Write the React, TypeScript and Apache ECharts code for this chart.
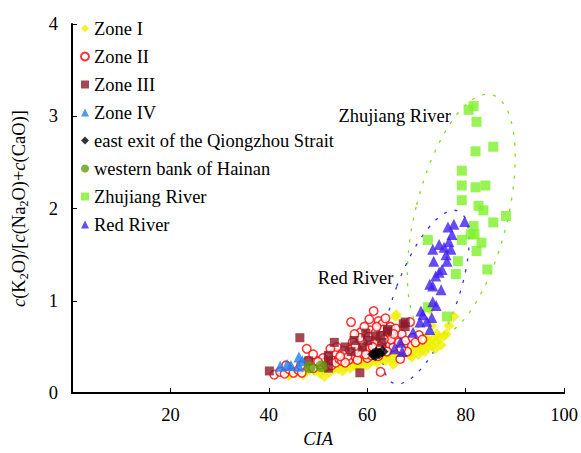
import React, { useEffect, useRef } from "react";
import * as echarts from "echarts";

const FONT = "Liberation Serif";
const FS = 18.5;

const seriesNames = [
  "Zone I",
  "Zone II",
  "Zone III",
  "Zone IV",
  "east exit of the Qiongzhou Strait",
  "western bank of Hainan",
  "Zhujiang River",
  "Red River",
];

const xTicks = [0, 20, 40, 60, 80, 100];
const yTicks = [0, 1, 2, 3, 4];

const zoneI: number[][] = [
  [44.1, 0.19], [45.5, 0.22], [47.0, 0.2], [48.2, 0.25], [49.3, 0.24], [50.5, 0.21], [51.3, 0.18],
  [52.4, 0.23], [53.2, 0.27], [54.1, 0.26], [55.0, 0.24], [55.7, 0.29], [56.5, 0.27], [57.3, 0.3],
  [58.0, 0.28], [58.6, 0.32], [59.3, 0.33], [60.0, 0.3], [60.6, 0.34], [61.2, 0.36], [62.0, 0.33],
  [62.8, 0.37], [63.7, 0.35], [64.3, 0.38], [65.0, 0.36], [65.3, 0.31], [65.7, 0.42], [66.1, 0.44],
  [66.8, 0.4], [67.4, 0.43], [68.1, 0.46], [68.6, 0.41], [69.1, 0.39], [69.3, 0.45], [69.8, 0.5],
  [70.1, 0.56], [70.7, 0.53], [71.0, 0.47], [71.3, 0.51], [71.3, 0.6], [71.7, 0.45], [72.1, 0.6],
  [72.3, 0.5], [72.7, 0.55], [73.1, 0.51], [73.1, 0.73], [73.3, 0.58], [73.8, 0.48], [74.1, 0.56],
  [74.1, 0.64], [74.6, 0.6], [75.0, 0.52], [75.6, 0.62], [76.0, 0.64], [76.6, 0.73], [77.6, 0.83],
  [72.7, 0.91], [65.7, 0.83], [65.9, 0.85], [64.5, 0.44], [63.0, 0.4], [61.5, 0.38], [59.8, 0.36],
  [57.8, 0.34], [56.2, 0.33], [54.6, 0.31], [53.0, 0.3], [50.0, 0.27], [47.5, 0.26], [46.0, 0.24],
  [67.5, 0.49], [70.4, 0.42],
];

const zoneII: number[][] = [
  [41.1, 0.2], [42.3, 0.23], [43.2, 0.21], [44.1, 0.26], [45.0, 0.22], [46.0, 0.25], [46.7, 0.22],
  [47.7, 0.48], [48.5, 0.3], [49.0, 0.27], [49.7, 0.35], [50.5, 0.31], [51.2, 0.33], [51.8, 0.29],
  [52.7, 0.3], [53.0, 0.36], [53.6, 0.33], [54.3, 0.37], [54.8, 0.35], [55.3, 0.39], [55.8, 0.42],
  [56.2, 0.36], [56.7, 0.77], [57.1, 0.45], [57.5, 0.4], [57.9, 0.48], [58.3, 0.53], [58.7, 0.66],
  [58.9, 0.43], [59.3, 0.47], [59.6, 0.51], [59.9, 0.58], [60.2, 0.44], [60.5, 0.49], [60.8, 0.54],
  [61.0, 0.62], [61.3, 0.89], [61.5, 0.46], [61.8, 0.5], [62.0, 0.56], [62.3, 0.78], [62.5, 0.6],
  [62.7, 0.23], [62.9, 0.52], [63.1, 0.75], [63.3, 0.69], [63.6, 0.48], [63.9, 0.57], [64.2, 0.63],
  [64.5, 0.53], [64.7, 0.72], [65.0, 0.66], [65.3, 0.5], [65.6, 0.59], [66.1, 0.6], [66.4, 0.55],
  [66.7, 0.37], [67.0, 0.64], [67.4, 0.52], [67.8, 0.57], [68.1, 0.45], [68.7, 0.77], [69.2, 0.6],
  [69.8, 0.55], [70.5, 0.63], [71.2, 0.58], [60.0, 0.38], [58.0, 0.36], [56.0, 0.4], [55.0, 0.46],
  [54.0, 0.42], [53.3, 0.44], [52.0, 0.4], [51.0, 0.38], [50.0, 0.34], [48.0, 0.35], [59.0, 0.55],
  [60.6, 0.68], [61.6, 0.65], [57.0, 0.55], [58.5, 0.6], [63.0, 0.62], [64.0, 0.45], [65.8, 0.7],
  [62.2, 0.4], [60.8, 0.41], [55.5, 0.33], [53.8, 0.5], [52.5, 0.48], [49.0, 0.42], [46.5, 0.3],
  [43.5, 0.3], [57.4, 0.64], [59.4, 0.72], [60.4, 0.8], [61.9, 0.72], [63.7, 0.81],
  [56.4, 0.47], [58.1, 0.44], [59.7, 0.42], [61.1, 0.5], [62.6, 0.48], [64.8, 0.58], [66.9, 0.48],
  [54.5, 0.4], [57.6, 0.51], [60.3, 0.61], [63.4, 0.58], [65.4, 0.64],
];

const zoneIII: number[][] = [
  [40.1, 0.24], [46.3, 0.6], [48.1, 0.35], [52.1, 0.41], [52.1, 0.35], [52.1, 0.27], [53.3, 0.55],
  [56.7, 0.45], [57.3, 0.57], [58.5, 0.22], [59.7, 0.65], [60.1, 0.57], [61.7, 0.62], [62.7, 0.62],
  [64.1, 0.67], [64.1, 0.69], [67.3, 0.75], [67.7, 0.72], [67.7, 0.77], [55.5, 0.5], [59.0, 0.5],
  [63.0, 0.55],
];

const zoneIV: number[][] = [
  [42.3, 0.29], [43.7, 0.31], [44.5, 0.3], [46.1, 0.39], [46.1, 0.29], [46.8, 0.35],
];

const eastExit: number[][] = [
  [61.2, 0.42], [61.8, 0.44], [62.4, 0.43], [63.1, 0.45], [61.6, 0.41],
];

const westernBank: number[][] = [
  [48.3, 0.28], [50.7, 0.29],
];

const zhujiang: number[][] = [
  [80.6, 3.07], [81.6, 3.11], [82.2, 2.94], [85.6, 2.67], [82.0, 2.62], [79.2, 2.41], [79.2, 2.25],
  [82.0, 2.23], [84.0, 2.25], [79.2, 2.09], [82.6, 2.03], [83.6, 1.98], [88.2, 1.92], [85.6, 1.85],
  [81.6, 1.81], [81.0, 1.72], [81.8, 1.72], [72.3, 1.66], [79.2, 1.66], [83.2, 1.63], [82.2, 1.54],
  [78.4, 1.43], [84.4, 1.34], [78.0, 1.29], [72.3, 0.93], [76.2, 0.83],
];

const redRiver: number[][] = [
  [79.8, 1.86], [77.6, 1.83], [76.4, 1.8], [77.2, 1.72], [76.6, 1.64], [74.6, 1.61], [73.3, 1.56],
  [75.6, 1.58], [77.0, 1.56], [76.0, 1.5], [73.5, 1.43], [76.2, 1.43], [75.2, 1.34], [74.6, 1.31],
  [73.9, 1.27], [72.7, 1.18], [73.3, 1.16], [75.0, 1.12], [73.3, 0.99], [70.9, 0.89], [71.3, 0.85],
  [73.1, 0.82], [70.7, 0.77], [72.1, 0.78], [72.7, 0.69], [69.3, 0.66], [66.7, 0.55], [65.5, 0.48],
  [67.1, 0.45], [74.0, 0.95],
];

// annotation anchors in data coordinates
const zhujiangLabelAt = [77.0, 3.0];
const redLabelAt = [65.3, 1.25];
const zhujiangEllipseCenter = [79.1, 1.92];
const redEllipseCenter = [71.9, 1.04];

export default function App() {
  const ref = useRef<HTMLDivElement>(null);
  useEffect(() => {
    document.body.style.margin = "0";
    if (!ref.current) return;
    const chart = echarts.init(ref.current, undefined, { renderer: "svg" });
    const mk = (
      name: string,
      data: number[][],
      symbol: string,
      size: number,
      itemStyle: any
    ) => ({
      name,
      type: "scatter",
      data,
      symbol,
      symbolSize: size,
      itemStyle,
      emphasis: { disabled: true },
    });
    chart.setOption({
      animation: false,
      backgroundColor: "#ffffff",
      textStyle: { fontFamily: FONT },
      grid: { left: 66, right: 14, top: 24, bottom: 59 },
      legend: {
        orient: "vertical",
        left: 75,
        top: 14,
        itemWidth: 8,
        itemHeight: 8,
        itemGap: 9,
        data: seriesNames,
        textStyle: { fontFamily: FONT, fontSize: FS, color: "#000" },
      },
      xAxis: {
        type: "value",
        min: xTicks[0],
        max: xTicks[xTicks.length - 1],
        interval: 20,
        name: "CIA",
        nameLocation: "middle",
        nameGap: 34,
        nameTextStyle: { fontFamily: FONT, fontSize: FS, fontStyle: "italic", color: "#000" },
        axisLine: { lineStyle: { color: "#000", width: 2 } },
        axisTick: { inside: true, length: 5, lineStyle: { color: "#000" } },
        axisLabel: {
          fontFamily: FONT,
          fontSize: FS,
          color: "#000",
          margin: 12,
          formatter: (v: number) => (v === 0 ? "" : String(v)),
        },
        splitLine: { show: false },
      },
      yAxis: {
        type: "value",
        min: yTicks[0],
        max: yTicks[yTicks.length - 1],
        interval: 1,
        name: "{i|c}(K{sub|2}O)/[{i|c}(Na{sub|2}O)+{i|c}(CaO)]",
        nameLocation: "middle",
        nameGap: 42,
        nameTextStyle: {
          fontFamily: FONT,
          fontSize: FS,
          color: "#000",
          lineHeight: 22,
          rich: {
            i: { fontStyle: "italic", fontFamily: FONT, fontSize: FS, lineHeight: 22 },
            sub: { fontFamily: FONT, fontSize: 12, verticalAlign: "bottom", lineHeight: 12 },
          },
        },
        axisLine: { lineStyle: { color: "#000", width: 2 } },
        axisTick: { inside: true, length: 5, lineStyle: { color: "#000" } },
        axisLabel: { fontFamily: FONT, fontSize: FS, color: "#000", margin: 14 },
        splitLine: { show: false },
      },
      series: [
        mk(seriesNames[0], zoneI, "diamond", 11, { color: "#f0f000" }),
        mk(seriesNames[1], zoneII, "circle", 8.5, {
          color: "#ffffff",
          borderColor: "#ff0000",
          borderWidth: 1.5,
        }),
        mk(seriesNames[2], zoneIII, "rect", 9, { color: "#8c1a2b" }),
        mk(seriesNames[3], zoneIV, "triangle", 11, { color: "#1e7ff0" }),
        mk(seriesNames[4], eastExit, "diamond", 12, { color: "#000000" }),
        mk(seriesNames[5], westernBank, "circle", 12, { color: "#5f9e0a" }),
        mk(seriesNames[6], zhujiang, "rect", 10, { color: "#80f02a" }),
        mk(seriesNames[7], redRiver, "triangle", 11, { color: "#3f1ff0" }),
      ],
    });

    const px = (p: number[]) => chart.convertToPixel({ gridIndex: 0 }, p) as number[];
    const zc = px(zhujiangEllipseCenter);
    const rc = px(redEllipseCenter);
    const zl = px(zhujiangLabelAt);
    const rl = px(redLabelAt);
    chart.setOption({
      graphic: [
        {
          type: "ellipse",
          x: zc[0],
          y: zc[1],
          rotation: -0.244,
          shape: { cx: 0, cy: 0, rx: 46, ry: 125 },
          style: { fill: "none", stroke: "#80e020", lineWidth: 1.3, lineDash: [3, 8] },
          silent: true,
        },
        {
          type: "ellipse",
          x: rc[0],
          y: rc[1],
          rotation: -0.356,
          shape: { cx: 0, cy: 0, rx: 31, ry: 92 },
          style: { fill: "none", stroke: "#3a30f0", lineWidth: 1.3, lineDash: [3, 8] },
          silent: true,
        },
        {
          type: "text",
          x: zl[0],
          y: zl[1],
          style: {
            text: "Zhujiang River",
            fontFamily: FONT,
            fontSize: FS,
            fill: "#000",
            align: "right",
            verticalAlign: "middle",
          },
          silent: true,
        },
        {
          type: "text",
          x: rl[0],
          y: rl[1],
          style: {
            text: "Red River",
            fontFamily: FONT,
            fontSize: FS,
            fill: "#000",
            align: "right",
            verticalAlign: "middle",
          },
          silent: true,
        },
      ],
    });
    return () => chart.dispose();
  }, []);
  return <div ref={ref} style={{ width: 581, height: 453 }} />;
}
